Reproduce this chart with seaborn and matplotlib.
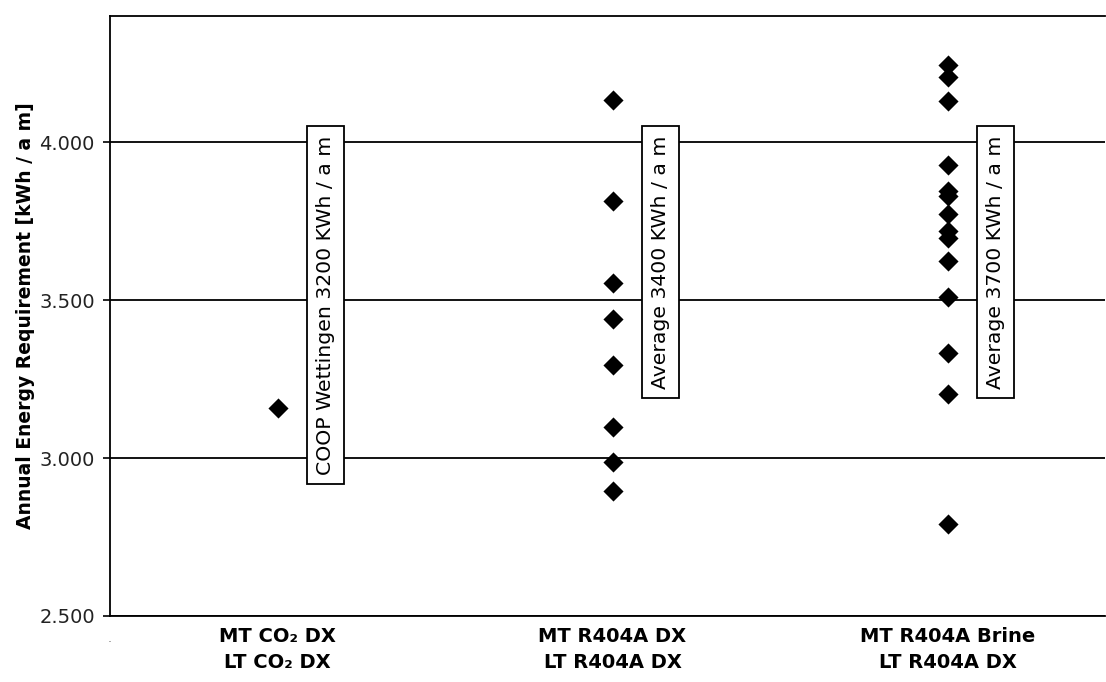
#!/usr/bin/env python3
# -*- coding: utf-8 -*-

import matplotlib
matplotlib.use("Agg")
import pandas as pd
import matplotlib.pyplot as plt
import seaborn as sns

# ================= 0. 数据 =================
CATEGORIES = ["MT CO₂ DX\nLT CO₂ DX",
              "MT R404A DX\nLT R404A DX",
              "MT R404A Brine\nLT R404A DX"]

CO2_DX = [3160]
R404A_DX = [4135, 3815, 3553, 3441, 3296, 3099, 2989, 2896]
R404A_BRINE = [4246, 4208, 4130, 3927, 3847, 3830, 3774, 3720,
               3698, 3623, 3509, 3334, 3203, 2792]

BOX_LABELS = ["COOP Wettingen 3200 KWh / a m",
              "Average 3400 KWh / a m",
              "Average 3700 KWh / a m"]

Y_TICKS = [2500, 3000, 3500, 4000]
Y_TICK_LABELS = ["2.500", "3.000", "3.500", "4.000"]
Y_LABEL = "Annual Energy Requirement [kWh / a m]"

# ================= 1. 整理数据 =================
groups = [CO2_DX, R404A_DX, R404A_BRINE]
rows = []
for i, vals in enumerate(groups, 1):
    for v in vals:
        rows.append({"pos": i, "value": v})
df = pd.DataFrame(rows)

# ================= 2. 绘图 =================
sns.set_theme(style="white")
plt.rcParams['font.family'] = ['DejaVu Sans']

fig = plt.figure(figsize=(11.06, 6.82), dpi=100)
ax = fig.add_axes([0.0995, 0.0968, 0.8996, 0.8798])

sns.scatterplot(x="pos", y="value", data=df, marker="D", s=105,
                color="black", edgecolor=None, linewidth=0, ax=ax, zorder=3)

# 注释框 (竖排)
for i, txt in enumerate(BOX_LABELS, 1):
    ax.text(i + 0.143, 4022, txt, rotation=90, ha="center", va="top",
            fontsize=14.7, color="black", zorder=4,
            bbox=dict(boxstyle="square,pad=0.45", facecolor="white",
                      edgecolor="black", linewidth=1.3))

ax.set_xlim(0.5, 3.47)
ax.set_ylim(2500, 4400)

ax.set_xticks([1, 2, 3])
ax.set_xticklabels(CATEGORIES, fontsize=14, fontweight="bold",
                   linespacing=1.45, color="black")
ax.set_yticks(Y_TICKS)
ax.set_yticklabels(Y_TICK_LABELS, fontsize=14, color="#222222")

ax.tick_params(axis="x", length=0, pad=8)
ax.tick_params(axis="y", length=5, width=1.2, direction="out", pad=6,
               color="black", left=True)

ax.set_xlabel("")
ax.set_ylabel(Y_LABEL, fontsize=13.5, fontweight="bold", labelpad=3,
              color="black")

ax.yaxis.grid(True, color="black", linewidth=1.3)
ax.xaxis.grid(False)
ax.set_axisbelow(True)

for side in ["left", "bottom", "top"]:
    ax.spines[side].set_color("black")
    ax.spines[side].set_linewidth(1.3)
ax.spines["right"].set_visible(False)

# 左下角的小点
fig.text(0.0995, 0.058, ".", fontsize=9, color="#777777", ha="center")

fig.savefig("out.png", dpi=100)
plt.close(fig)
